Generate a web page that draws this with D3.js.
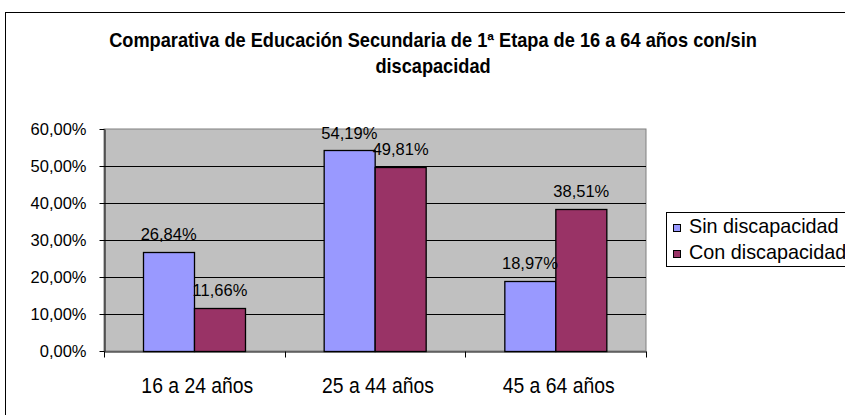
<!DOCTYPE html>
<html lang="es">

<head>
    <meta charset="UTF-8">
    <title>Comparativa</title>
    <style>
        body {
            margin: 0;
            background: #fff;
        }

        text {
            font-family: "Liberation Sans", Arial, sans-serif;
        }
    </style>
</head>

<body>
    <div id="wrapper"></div>

    <script src="https://d3js.org/d3.v7.min.js"></script>
    <script>
        // datos
        const categories = ["16 a 24 años", "25 a 44 años", "45 a 64 años"];
        const series = ["Sin discapacidad", "Con discapacidad"];
        const sinValues = [26.84, 54.19, 18.97];
        const conValues = [11.66, 49.81, 38.51];
        const yTicks = [0, 10, 20, 30, 40, 50, 60];
        const titleLines = ["Comparativa de Educación Secundaria de 1ª Etapa de 16 a 64 años con/sin", "discapacidad"];

        const colors = ["#9999FF", "#993366"];

        const width = 845,
            height = 415;
        const plot = { left: 104, right: 646, top: 129, bottom: 351 };
        // no hay fuente estrecha, se comprime el texto
        const titleNarrow = 0.91,
            labelNarrow = 0.88;

        const svg = d3.select('#wrapper').append('svg')
            .attr('width', width)
            .attr('height', height);

        // marco exterior
        svg.append('rect')
            .attr('x', 5.5).attr('y', 12.5)
            .attr('width', 900).attr('height', 500)
            .attr('fill', '#fff')
            .attr('stroke', '#000');

        // titulo
        svg.append('text')
            .attr('transform', `translate(433,0) scale(${titleNarrow},1)`)
            .attr('text-anchor', 'middle')
            .attr('font-size', 20)
            .attr('font-weight', 'bold')
            .selectAll('tspan')
            .data(titleLines)
            .join('tspan')
            .attr('x', 0)
            .attr('y', (d, i) => 47 + i * 26)
            .text(d => d);

        // escalas
        const xScale = d3.scaleBand()
            .domain(categories)
            .range([plot.left, plot.right]);

        const xInner = d3.scaleBand()
            .domain(series)
            .range([0, xScale.bandwidth()])
            .paddingOuter(0.76)
            .paddingInner(0);

        const yScale = d3.scaleLinear()
            .domain([0, 60])
            .range([plot.bottom, plot.top]);

        // fondo gris
        svg.append('rect')
            .attr('x', plot.left)
            .attr('y', plot.top)
            .attr('width', plot.right - plot.left)
            .attr('height', plot.bottom - plot.top)
            .attr('fill', '#C0C0C0')
            .attr('stroke', '#808080');

        // lineas de division
        svg.append('g')
            .selectAll('line')
            .data(yTicks.filter(d => d > 0 && d < 60))
            .join('line')
            .attr('x1', plot.left).attr('x2', plot.right)
            .attr('y1', d => Math.round(yScale(d)) + 0.5)
            .attr('y2', d => Math.round(yScale(d)) + 0.5)
            .attr('stroke', '#000');

        // eje Y
        const yAxis = d3.axisLeft(yScale)
            .tickValues(yTicks)
            .tickSizeInner(5)
            .tickSizeOuter(0)
            .tickPadding(13)
            .tickFormat(d => d3.format('.2f')(d).replace('.', ',') + '%');

        const gy = svg.append('g')
            .attr('transform', `translate(${plot.left + 0.5},0)`)
            .call(yAxis);
        gy.selectAll('text')
            .attr('font-size', 16.5)
            .attr('font-family', null)
            .attr('fill', '#000');
        gy.selectAll('line, path').attr('stroke', '#000');

        // eje X
        const xAxis = d3.axisBottom(xScale)
            .tickSize(0)
            .tickPadding(26);

        const gx = svg.append('g')
            .attr('transform', `translate(0,${plot.bottom + 0.5})`)
            .call(xAxis);
        gx.select('.domain').attr('stroke', '#000');
        gx.selectAll('text')
            .attr('font-family', null)
            .attr('font-size', 22)
            .attr('transform', `translate(3,0) scale(${labelNarrow},1)`)
            .attr('fill', '#000');

        // marcas entre categorias
        const bounds = categories.map(c => xScale(c)).concat([plot.right]);
        gx.selectAll('.sep')
            .data(bounds)
            .join('line')
            .attr('class', 'sep')
            .attr('x1', d => Math.round(d) + 0.5)
            .attr('x2', d => Math.round(d) + 0.5)
            .attr('y1', 0).attr('y2', 6)
            .attr('stroke', '#000');

        // barras
        const rows = categories.map((c, i) => ({
            cat: c,
            vals: [
                { s: series[0], v: sinValues[i] },
                { s: series[1], v: conValues[i] }
            ]
        }));

        const groups = svg.append('g')
            .selectAll('g')
            .data(rows)
            .join('g')
            .attr('transform', d => `translate(${xScale(d.cat)},0)`);

        groups.selectAll('rect')
            .data(d => d.vals)
            .join('rect')
            .attr('x', d => Math.round(xInner(d.s)) + 0.5)
            .attr('y', d => Math.round(yScale(d.v)) + 0.5)
            .attr('width', Math.round(xInner.bandwidth()))
            .attr('height', d => plot.bottom - Math.round(yScale(d.v)))
            .attr('fill', (d, i) => colors[i])
            .attr('stroke', '#000')
            .attr('stroke-width', 1.3);

        // etiquetas de datos
        groups.selectAll('text')
            .data(d => d.vals)
            .join('text')
            .attr('x', d => xInner(d.s) + xInner.bandwidth() / 2)
            .attr('y', d => yScale(d.v) - 11.5)
            .attr('text-anchor', 'middle')
            .attr('font-size', 16.5)
            .text(d => d3.format('.2f')(d.v).replace('.', ',') + '%');

        // leyenda
        const legend = svg.append('g')
            .attr('transform', 'translate(666,212)');

        legend.append('rect')
            .attr('x', 0.5).attr('y', 0.5)
            .attr('width', 300).attr('height', 54)
            .attr('fill', '#fff')
            .attr('stroke', '#000');

        const items = legend.selectAll('.item')
            .data(series)
            .join('g')
            .attr('class', 'item')
            .attr('transform', (d, i) => `translate(0,${i * 26})`);

        items.append('rect')
            .attr('x', 7.5).attr('y', 12.5)
            .attr('width', 7).attr('height', 7)
            .attr('fill', (d, i) => colors[i])
            .attr('stroke', '#000');

        items.append('text')
            .attr('x', 23)
            .attr('y', 21)
            .attr('font-size', 19.8)
            .text(d => d);
    </script>
</body>

</html>
